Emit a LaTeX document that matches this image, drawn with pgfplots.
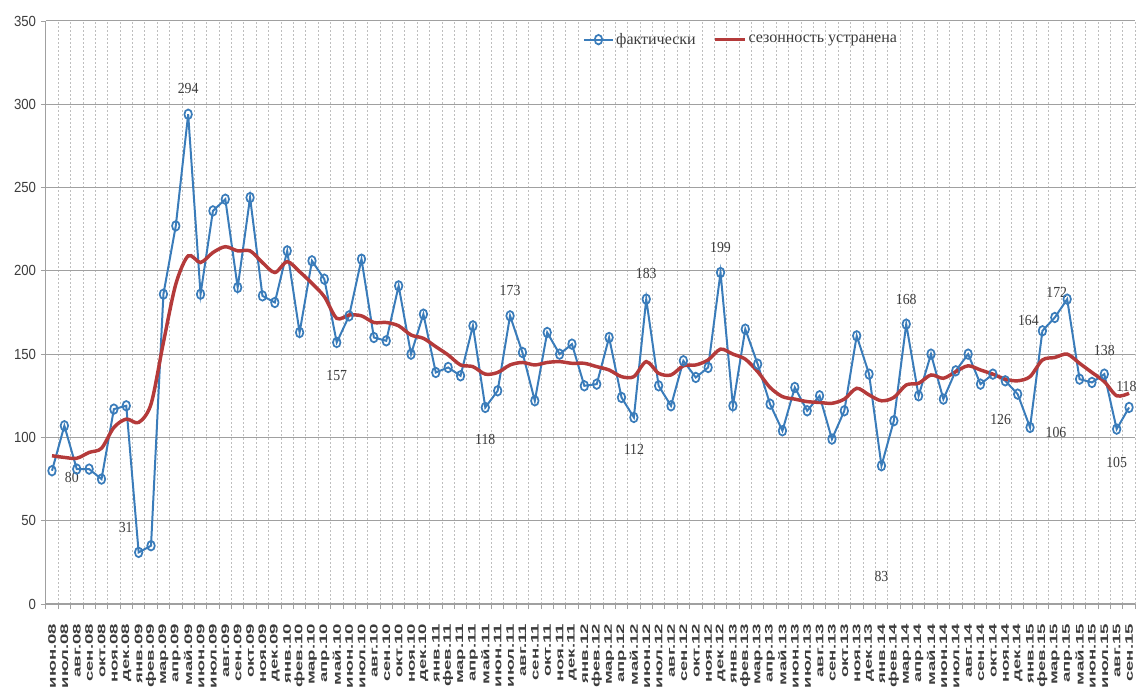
\documentclass[border=0pt]{standalone}
\usepackage{fontspec}
\setmainfont{Liberation Serif}
\newfontfamily\ticksans{Liberation Sans}[FakeStretch=0.9]
\newfontfamily\xlabfont{Liberation Sans}[FakeStretch=1.7]
\newfontfamily\lblfont{Liberation Serif}[FakeStretch=0.9]
\newfontfamily\legfont{Liberation Serif}
\usepackage{pgfplots}
\usepackage{pgfplotstable}
\pgfplotsset{compat=1.18}
\definecolor{sblue}{RGB}{58,124,186}
\definecolor{sred}{RGB}{180,58,58}
\definecolor{gridmaj}{RGB}{160,160,160}
\definecolor{gridmin}{RGB}{190,190,190}
\definecolor{txt}{RGB}{60,60,60}
\tikzset{lbl/.style={font=\lblfont\fontsize{11.5}{13}\selectfont, text=txt, inner sep=0pt}}

\pgfplotstableread{
i v
0 80
1 107
2 81
3 81
4 75
5 117
6 119
7 31
8 35
9 186
10 227
11 294
12 186
13 236
14 243
15 190
16 244
17 185
18 181
19 212
20 163
21 206
22 195
23 157
24 173
25 207
26 160
27 158
28 191
29 150
30 174
31 139
32 142
33 137
34 167
35 118
36 128
37 173
38 151
39 122
40 163
41 150
42 156
43 131
44 132
45 160
46 124
47 112
48 183
49 131
50 119
51 146
52 136
53 142
54 199
55 119
56 165
57 144
58 120
59 104
60 130
61 116
62 125
63 99
64 116
65 161
66 138
67 83
68 110
69 168
70 125
71 150
72 123
73 140
74 150
75 132
76 138
77 134
78 126
79 106
80 164
81 172
82 183
83 135
84 133
85 138
86 105
87 118
}\actual

\pgfplotstableread{
i v
0 89
1 88
2 87.5
3 91
4 93.5
5 106
6 111
7 109
8 120
9 157
10 192
11 209
12 205
13 211
14 214.5
15 212
16 212
17 205
18 199
19 205.5
20 199.5
21 192.5
22 184.5
23 171.5
24 173.5
25 173
26 169
27 169
28 167
29 161.5
30 159.5
31 154.5
32 149.5
33 143.5
34 142.5
35 138
36 139
37 143.5
38 145
39 143.5
40 145
41 145.5
42 144.5
43 144.5
44 142.5
45 140.5
46 136.5
47 136.5
48 145.5
49 138.5
50 137.5
51 143
52 143.5
53 146.5
54 153
55 150
56 147
57 139.5
58 130
59 124.5
60 123
61 121.5
62 121
63 120.5
64 123
65 129.5
66 125.5
67 122
68 124
69 131.5
70 132.5
71 137.5
72 135.5
73 139.5
74 143
75 140.5
76 138
77 135
78 134
79 136.5
80 146.5
81 148
82 150
83 144.5
84 139
85 133.5
86 125
87 126.5
}\adjusted

\begin{document}
\begin{tikzpicture}
\useasboundingbox (0,0) rectangle (853.5pt,519.75pt);
\begin{axis}[
  at={(34.35pt,66.75pt)}, anchor=south west,
  scale only axis, width=817.1pt, height=437.25pt,
  xmin=-0.5, xmax=87.5, ymin=0, ymax=350,
  clip=false,
  axis x line*=bottom, axis y line*=left,
  axis line style={draw=gridmaj, line width=0.8pt, -},
  tick align=outside,
  ytick={0,50,...,350},
  ymajorgrids,
  major grid style={draw=gridmaj, line width=0.75pt},
  xtick={0,...,87},
  xticklabels={июн.08,июл.08,авг.08,сен.08,окт.08,ноя.08,дек.08,
    янв.09,фев.09,мар.09,апр.09,май.09,июн.09,июл.09,авг.09,сен.09,окт.09,ноя.09,дек.09,
    янв.10,фев.10,мар.10,апр.10,май.10,июн.10,июл.10,авг.10,сен.10,окт.10,ноя.10,дек.10,
    янв.11,фев.11,мар.11,апр.11,май.11,июн.11,июл.11,авг.11,сен.11,окт.11,ноя.11,дек.11,
    янв.12,фев.12,мар.12,апр.12,май.12,июн.12,июл.12,авг.12,сен.12,окт.12,ноя.12,дек.12,
    янв.13,фев.13,мар.13,апр.13,май.13,июн.13,июл.13,авг.13,сен.13,окт.13,ноя.13,дек.13,
    янв.14,фев.14,мар.14,апр.14,май.14,июн.14,июл.14,авг.14,сен.14,окт.14,ноя.14,дек.14,
    янв.15,фев.15,мар.15,апр.15,май.15,июн.15,июл.15,авг.15,сен.15},
  every major x tick/.append style={draw=none},
  minor xtick={-0.5,0.5,...,87.5},
  xminorgrids,
  minor grid style={draw=gridmin, line width=0.6pt, dash pattern=on 1.5pt off 1.5pt},
  major tick length=3.75pt, minor tick length=3.75pt,
  every tick/.append style={draw=gridmaj, line width=0.6pt},
  /pgf/number format/assume math mode=true,
  yticklabel style={font=\ticksans\fontsize{11}{13}\selectfont, text=txt},
  xticklabel style={font=\xlabfont\bfseries\fontsize{8.2}{9}\selectfont, text=txt,
     rotate=90, anchor=east, inner sep=1pt},
  xticklabel shift=10pt,
  legend style={at={(0.489,0.968)}, anchor=west, draw=none, fill=none,
     font=\legfont\fontsize{12}{14}\selectfont, text=txt,
     /tikz/every even column/.append style={column sep=12pt},
     nodes={inner sep=1.5pt}},
  legend columns=2,
  legend image code/.code={\draw[mark repeat=2,mark phase=2,#1] plot coordinates {(0pt,0pt) (11pt,0pt) (22pt,0pt)};},
]
\addplot[sblue, line width=1.5pt, mark=o, mark size=3.6pt,
  mark options={fill=white, line width=1.3pt, xscale=0.78}] table[x=i,y=v] {\actual};
\addlegendentry{фактически}
\addplot[sred, line width=2.6pt, smooth, tension=0.5] table[x=i,y=v] {\adjusted};
\addlegendentry{сезонность устранена}

\node[lbl, xshift=-3.75pt, yshift=-6pt] at (axis cs:2,81) {80};
\node[lbl, xshift=-9.75pt, yshift=18.75pt] at (axis cs:7,31) {31};
\node[lbl, yshift=19.5pt] at (axis cs:11,294) {294};
\node[lbl, yshift=-24.75pt] at (axis cs:23,157) {157};
\node[lbl, yshift=-24pt] at (axis cs:35,118) {118};
\node[lbl, yshift=18.75pt] at (axis cs:37,173) {173};
\node[lbl, yshift=-24pt] at (axis cs:47,112) {112};
\node[lbl, yshift=19.5pt] at (axis cs:48,183) {183};
\node[lbl, yshift=18.75pt] at (axis cs:54,199) {199};
\node[lbl, yshift=-83pt] at (axis cs:67,83) {83};
\node[lbl, yshift=18.75pt] at (axis cs:69,168) {168};
\node[lbl, xshift=-12.75pt, yshift=-18.75pt] at (axis cs:78,126) {126};
\node[lbl, xshift=19.5pt, yshift=-3.75pt] at (axis cs:79,106) {106};
\node[lbl, xshift=-10.5pt, yshift=7.5pt] at (axis cs:80,164) {164};
\node[lbl, xshift=1.5pt, yshift=18.75pt] at (axis cs:81,172) {172};
\node[lbl, yshift=18pt] at (axis cs:85,138) {138};
\node[lbl, yshift=-24.75pt] at (axis cs:86,105) {105};
\node[lbl, xshift=-2pt, yshift=15.75pt] at (axis cs:87,118) {118};
\end{axis}
\end{tikzpicture}
\end{document}
